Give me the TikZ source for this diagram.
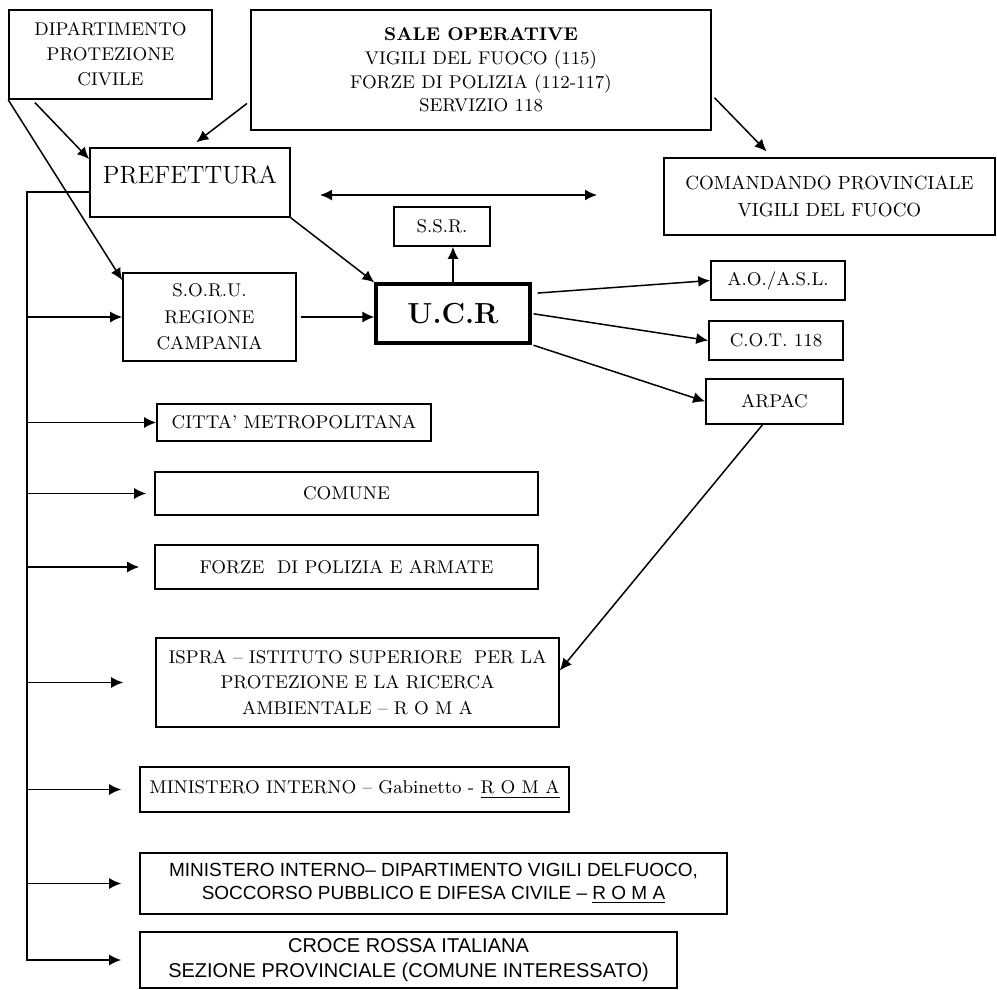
\documentclass[tikz,border=0pt]{standalone}
\usepackage{fontspec}
\newfontfamily\arialish{Liberation Sans}
\usetikzlibrary{arrows.meta}
\tikzset{
  box/.style={draw, line width=0.8pt, align=center, inner sep=1pt, font=\fontsize{9.2}{12.5}\selectfont},
  sansbox/.style={box, font=\arialish\fontsize{9.5}{11.5}\selectfont},
  link/.style={-{Latex[length=6pt,width=5.5pt]}, line width=0.75pt},
}
\begin{document}
\begin{tikzpicture}[x=0.5pt, y=-0.5pt]
  \useasboundingbox (0,0) rectangle (997,990);
  % top row
  \node[box, minimum width=101.5pt, minimum height=44.5pt] (dip) at (110.5,54.5) {DIPARTIMENTO\\PROTEZIONE\\CIVILE};
  \node[box, minimum width=230pt, minimum height=60pt, font=\fontsize{9.2}{11.8}\selectfont] (sale) at (481,70)
    {\textbf{SALE OPERATIVE}\\VIGILI DEL FUOCO (115)\\FORZE DI POLIZIA (112-117)\\SERVIZIO 118};
  \node[box, minimum width=100pt, minimum height=34.5pt, font=\fontsize{12.5}{14}\selectfont,
        text height=8.5pt, text depth=7.5pt] (pref) at (190,182.5) {PREFETTURA};
  \node[box, minimum width=165.5pt, minimum height=38.5pt, font=\fontsize{9.5}{13.5}\selectfont] (com) at (829.5,196.5)
    {COMANDANDO PROVINCIALE\\VIGILI DEL FUOCO};
  % centre
  \node[box, minimum width=48pt, minimum height=19.5pt] (ssr) at (442,226.5) {S.S.R.};
  \node[box, line width=1.6pt, minimum width=77pt, minimum height=29.5pt, font=\fontsize{14.5}{18}\selectfont\bfseries] (ucr) at (453,313.5) {U.C.R};
  \node[box, minimum width=86.5pt, minimum height=44pt, font=\fontsize{9.2}{13.2}\selectfont] (soru) at (209.5,317) {S.O.R.U.\\REGIONE\\CAMPANIA};
  \node[box, minimum width=67pt, minimum height=19.5pt] (aoasl) at (778,280.5) {A.O./A.S.L.};
  \node[box, minimum width=67pt, minimum height=19.5pt] (cot) at (776,340.5) {C.O.T. 118};
  \node[box, minimum width=68.5pt, minimum height=22.5pt] (arpac) at (774.5,401.5) {ARPAC};
  % list on the left
  \node[box, minimum width=137pt, minimum height=18.5pt] (citta) at (294,422.5) {CITTA’ METROPOLITANA};
  \node[box, minimum width=191.5pt, minimum height=21.5pt] (comune) at (346.5,493.5) {COMUNE};
  \node[box, minimum width=191.5pt, minimum height=22pt] (forze) at (346.5,567) {FORZE\ \ DI POLIZIA E ARMATE};
  \node[box, minimum width=201.5pt, minimum height=44.5pt, font=\fontsize{9.2}{12.75}\selectfont] (ispra) at (357.5,682.5)
    {ISPRA – ISTITUTO SUPERIORE\ \ PER LA\\PROTEZIONE E LA RICERCA\\AMBIENTALE – R O M A};
  \node[box, minimum width=214.5pt, minimum height=22.5pt] (mingab) at (354.5,789.5)
    {MINISTERO INTERNO – Gabinetto - \underline{R O M A}};
  \node[sansbox, minimum width=293.5pt, minimum height=30.5pt] (mindip) at (433.5,883.5)
    {MINISTERO INTERNO– DIPARTIMENTO VIGILI DELFUOCO,\\SOCCORSO PUBBLICO E DIFESA CIVILE – \underline{R O M A}};
  \node[sansbox, minimum width=268.5pt, minimum height=28pt, font=\arialish\fontsize{10}{12.5}\selectfont] (croce) at (408.5,960)
    {CROCE ROSSA ITALIANA\\SEZIONE PROVINCIALE (COMUNE INTERESSATO)};
  \coordinate (trunk) at (27,192);
  \coordinate (dblA) at (320,195);
  \coordinate (dblB) at (597,195);
  % connectors
  \draw[link, shorten <=2pt] ([xshift=12pt]dip.south west) -- ([yshift=-6pt]pref.north west);
  \draw[link] (dip.south west) -- ([yshift=-4pt]soru.north west);
  \draw[link, shorten <=2pt, shorten >=4pt] ([yshift=-15.5pt]sale.west) -- (pref.north);
  \draw[link, shorten <=2pt, shorten >=4pt] ([yshift=-12.5pt]sale.east) -- ([xshift=54.5pt]com.north west);
  \draw[link, {Latex[length=6pt,width=5.5pt]}-{Latex[length=6pt,width=5.5pt]}] (dblA) -- (dblB);
  \draw[link] (pref.south east) -- (ucr.north west);
  \draw[link] (ucr.north) -- (ucr.north |- ssr.south);
  \draw[link, shorten <=2pt] (soru.east) -- (soru.east -| ucr.west);
  \draw[link, shorten <=3pt] ([yshift=10pt]ucr.east) -- (aoasl.west);
  \draw[link, shorten <=1pt] (ucr.east) -- (cot.west);
  \draw[link, shorten <=1pt] (ucr.south east) -- (arpac.west);
  \draw[link] ([xshift=-6pt]arpac.south) -- ([yshift=6pt]ispra.east);
  % trunk from the prefettura
  \draw[link, shorten >=9pt] (trunk -| pref.west) -- (trunk) |- (croce.west);
  \draw[link] (trunk |- soru.west) -- (soru.west);
  \draw[link] (trunk |- citta.west) -- (citta.west);
  \draw[link, shorten >=4pt] (trunk |- comune.west) -- (comune.west);
  \draw[link, shorten >=7.5pt] (trunk |- forze.west) -- (forze.west);
  \draw[link, shorten >=16pt] (trunk |- ispra.west) -- (ispra.west);
  \draw[link, shorten >=9pt] (trunk |- mingab.west) -- (mingab.west);
  \draw[link, shorten >=9pt] (trunk |- mindip.west) -- (mindip.west);
\end{tikzpicture}
\end{document}
